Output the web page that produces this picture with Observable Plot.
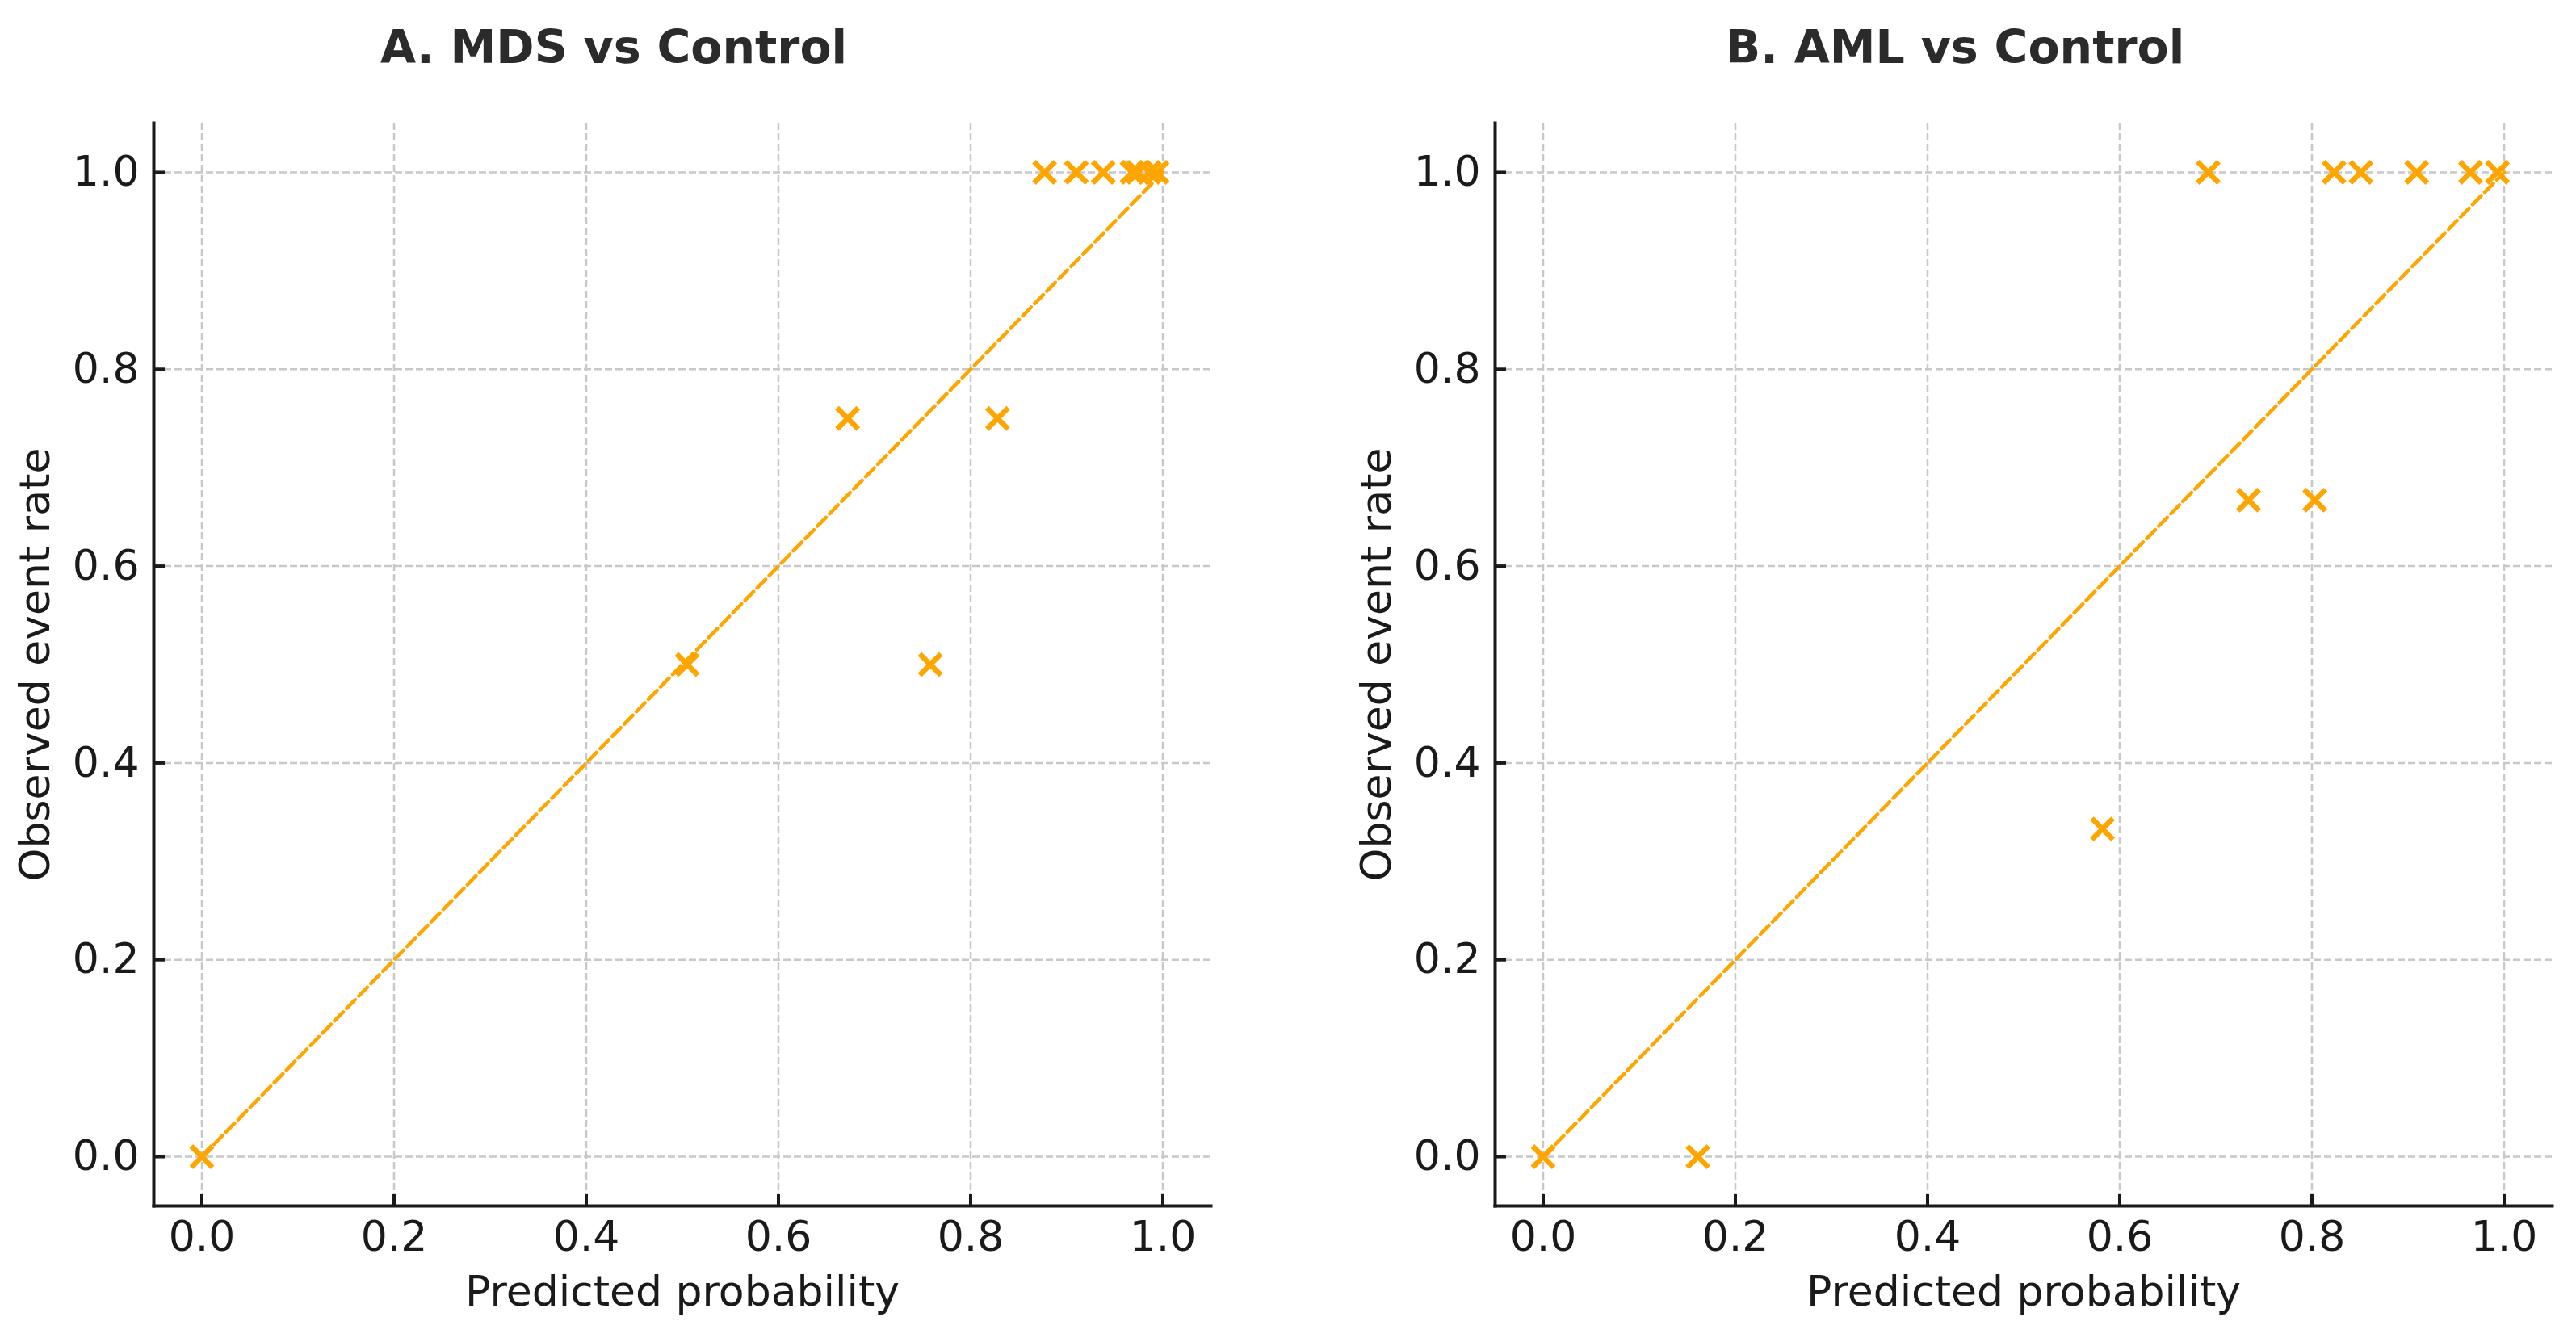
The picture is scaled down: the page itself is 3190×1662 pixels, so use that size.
<!DOCTYPE html>
<html><head><meta charset="utf-8">
<script src="https://cdn.jsdelivr.net/npm/d3@7"></script>
<script src="https://cdn.jsdelivr.net/npm/@observablehq/plot@0.6"></script>
<style>
body{margin:0;background:#fff;width:3190px;height:1662px;position:relative;overflow:hidden;font-family:"DejaVu Sans";}
.title{position:absolute;top:30px;font:bold 57px/57px "DejaVu Sans";color:#2b2b2b;white-space:nowrap;transform:translateX(-50%);}
.panel{position:absolute;top:110px;}
</style></head><body>
<div class="title" style="left:760px">A. MDS vs Control</div>
<div class="title" style="left:2421px">B. AML vs Control</div>
<div id="pA" class="panel" style="left:0px"></div>
<div id="pB" class="panel" style="left:1600px"></div>
<script>
// Panel A: MDS vs Control
const mdsPred = [0.0, 0.505, 0.672, 0.758, 0.828, 0.877, 0.910, 0.938, 0.968, 0.974, 0.986, 0.994];
const mdsObs  = [0.0, 0.5,   0.75,  0.5,   0.75,  1.0,   1.0,   1.0,   1.0,   1.0,   1.0,   1.0];
// Panel B: AML vs Control
const amlPred = [0.0, 0.161, 0.582, 0.692, 0.734, 0.803, 0.823, 0.851, 0.909, 0.965, 0.993];
const amlObs  = [0.0, 0.0,   0.333, 1.0,   0.667, 0.667, 1.0,   1.0,   1.0,   1.0,   1.0];
// reference (perfect calibration) line
const diagonal = [0, 1];
const tickValues = [0.0, 0.2, 0.4, 0.6, 0.8, 1.0];
const xLabel = "Predicted probability";
const yLabel = "Observed event rate";

function panel(pred, obs, width, marginLeft, marginRight) {
  const pts = pred.map((p, i) => ({p, o: obs[i]}));
  const fmt = d3.format(".1f");
  const gridStyle = {stroke: "#c8c8c8", strokeOpacity: 1, strokeWidth: 2.5, strokeDasharray: "9,4"};
  return Plot.plot({
    width, height: 1552, marginLeft, marginRight, marginTop: 42, marginBottom: 169,
    style: {fontFamily: "DejaVu Sans", fontSize: "52px", color: "#1a1a1a", background: "white", overflow: "visible"},
    x: {domain: [-0.05, 1.05]},
    y: {domain: [-0.05, 1.05]},
    marks: [
      Plot.gridX(tickValues, gridStyle),
      Plot.gridY(tickValues, gridStyle),
      Plot.line(diagonal, {x: d => d, y: d => d, stroke: "#FFA500", strokeWidth: 4.5, strokeDasharray: "15,6.4"}),
      Plot.dot(pts, {x: "p", y: "o", symbol: "times", r: 12, stroke: "#FFA500", strokeWidth: 6.5}),
      Plot.frame({anchor: "left", stroke: "#1a1a1a", strokeWidth: 4}),
      Plot.frame({anchor: "bottom", stroke: "#1a1a1a", strokeWidth: 4}),
      Plot.axisX(tickValues, {tickSize: -14, tickPadding: 33, tickFormat: fmt, strokeWidth: 4,
        label: xLabel, labelAnchor: "center", labelOffset: 123, labelArrow: "none"}),
      Plot.axisY(tickValues, {tickSize: -14, tickPadding: 32, tickFormat: fmt, strokeWidth: 4,
        label: yLabel, labelAnchor: "center", labelOffset: 166, labelArrow: "none"})
    ]
  });
}
document.getElementById("pA").append(panel(mdsPred, mdsObs, 1600, 190, 101));
document.getElementById("pB").append(panel(amlPred, amlObs, 1590, 251, 30));
</script>
</body></html>
